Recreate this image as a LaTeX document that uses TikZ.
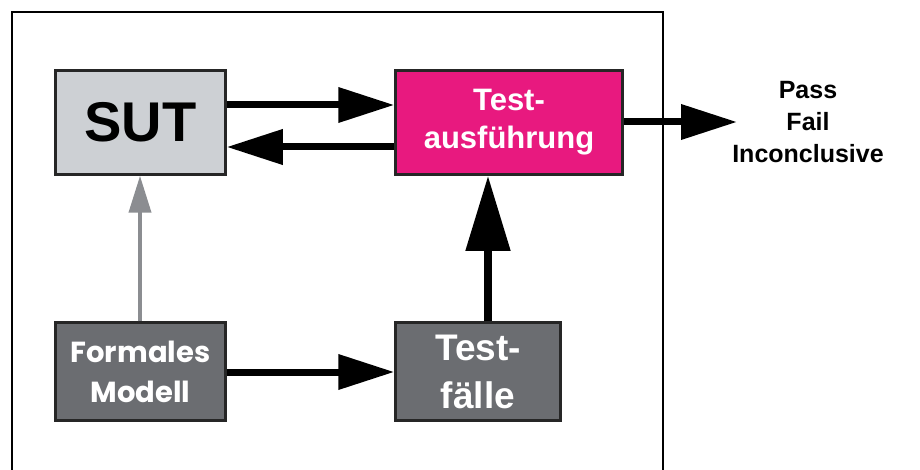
\documentclass[tikz,border=0pt]{standalone}
\usepackage{fontspec}
\setmainfont{Liberation Sans}
\newfontfamily\popfont{Poppins}
\usetikzlibrary{arrows.meta}
\definecolor{sutgray}{HTML}{CDD0D4}
\definecolor{magentabox}{HTML}{E8197F}
\definecolor{darkbox}{HTML}{6B6D71}
\definecolor{grayarrow}{HTML}{8B8D91}
\begin{document}
\begin{tikzpicture}[x=1pt,y=-1pt,
  box/.style={draw=black!85, line width=2.5pt, inner sep=0pt, align=center},
  thickarrow/.style={line width=7pt, -{Triangle[length=56pt,width=34pt]}},
  frameline/.style={line width=2pt}
]
\useasboundingbox (0,0) rectangle (920,470);
\draw[frameline] (12,480) -- (12,12) -- (663,12) -- (663,480);

\node[box, fill=sutgray, minimum width=170pt, minimum height=104pt,
      font=\fontsize{56}{60}\selectfont\bfseries] (sut) at (140.5,122.5) {\raisebox{-3pt}{SUT}};
\node[box, fill=magentabox, text=white, minimum width=227pt, minimum height=104pt,
      font=\fontsize{31}{38}\selectfont\bfseries] (te) at (509,122.5) {Test-\\ausführung};
\node[box, fill=darkbox, text=white, minimum width=170pt, minimum height=98pt,
      font=\popfont\fontsize{29}{40}\selectfont\bfseries] (fm) at (140.5,371.5) {Formales\\Modell};
\node[box, fill=darkbox, text=white, minimum width=165pt, minimum height=98pt,
      font=\fontsize{37}{48}\selectfont\bfseries] (tf) at (478,371.5) {Test-\\fälle};

\node[align=center, font=\fontsize{25}{32}\selectfont\bfseries] (res) at (808,122.5) {Pass\\Fail\\Inconclusive};
\coordinate (out) at (737,122);

\draw[thickarrow] (sut.east |- 0,105) -- (te.west |- 0,105);
\draw[thickarrow] (te.west |- 0,147) -- (sut.east |- 0,147);
\draw[thickarrow] (te.east |- out) -- (out);
\draw[thickarrow] (fm.east |- 0,372) -- (tf.west |- 0,372);
\draw[line width=8pt, -{Triangle[length=75pt,width=43pt]}] (tf.north -| 488,0) -- (te.south -| 488,0);
\draw[grayarrow, line width=4pt, -{Triangle[length=37pt,width=22pt]}] (fm.north -| 140,0) -- (sut.south -| 140,0);
\end{tikzpicture}
\end{document}
